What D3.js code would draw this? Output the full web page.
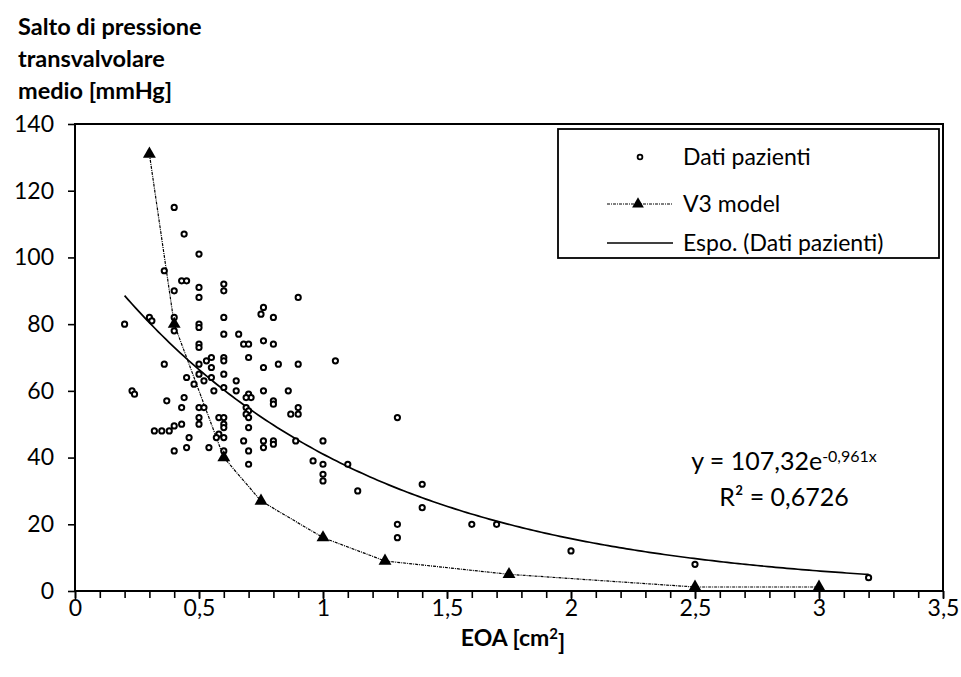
<!DOCTYPE html>
<html><head><meta charset="utf-8">
<script src="https://cdn.jsdelivr.net/npm/d3@7"></script>
<style>
body{margin:0;background:#fff}
svg{display:block}
text{font-family:Lato,"Open Sans",sans-serif;fill:#000}
</style>
</head><body>
<svg id="c" width="961" height="677"></svg>
<script>
// ---- data ----
const patientsX = [0.40,0.44,0.50,0.36,0.43,0.45,0.40,0.50,0.50,0.60,0.60,0.90,0.76,0.75,0.80,
  0.20,0.30,0.31,0.40,0.40,0.50,0.50,0.60,0.60,0.66,0.68,0.70,0.76,0.80,0.50,0.50,0.55,0.60,0.60,
  0.70,0.76,0.36,0.50,0.53,0.55,0.82,0.90,1.05,0.45,0.50,0.52,0.55,0.48,0.60,0.65,0.60,0.65,0.56,
  0.70,0.71,0.69,0.76,0.86,0.23,0.24,0.37,0.44,0.43,0.50,0.52,0.69,0.70,0.69,0.70,0.80,0.80,0.90,
  0.90,0.87,0.50,0.50,0.58,0.60,0.60,0.60,0.70,0.32,0.35,0.38,0.40,0.43,0.46,0.58,0.57,0.60,0.68,
  0.76,0.76,0.80,0.80,0.89,1.00,0.40,0.45,0.54,0.60,0.70,0.70,0.96,1.00,1.00,1.00,1.10,1.14,1.30,
  1.40,1.40,1.30,1.30,1.60,1.70,2.00,2.50,3.20];
const patientsY = [115,107,101,96,93,93,90,91,88,92,90,88,85,83,82,
  80,82,81,82,78,80,79,82,77,77,74,74,75,74,74,73,70,70,69,
  70,67,68,68,69,67,68,68,69,64,65,63,64,62,65,63,61,60,60,
  59,58,58,60,60,60,59,57,58,55,55,55,55,54,53,52,57,56,55,
  53,53,52,50,52,52,50,49,49,48,48,48,49.5,50,46,47,46,46,45,
  45,43,45,44,45,45,42,43,43,42,42,38,39,38,35,33,38,30,52,
  32,25,20,16,20,20,12,8,4];
const modelX = [0.3,0.4,0.6,0.75,1.0,1.25,1.75,2.5,3.0];
const modelY = [131,80,40,27,16,9,5,1.2,1.2];
const fitA = 107.32, fitB = -0.961;        // Espo. trendline coefficients
const fitRange = [0.2, 3.2];
const xTickValues = [0,0.5,1,1.5,2,2.5,3,3.5];
const xTickLabels = ["0","0,5","1","1,5","2","2,5","3","3,5"];
const yTickValues = [0,20,40,60,80,100,120,140];
const legendLabels = ["Dati pazienti","V3 model","Espo. (Dati pazienti)"];
const yTitleLines = ["Salto di pressione","transvalvolare","medio [mmHg]"];
const xTitle = "EOA [cm";
const eqMain = "y = 107,32e", eqExp = "-0,961x", r2Text = "R² = 0,6726";

// ---- layout ----
const svg = d3.select("#c");
const L = 75, R = 943, T = 124, B = 591;
const x = d3.scaleLinear([0,3.5],[L,R]);
const y = d3.scaleLinear([0,140],[B,T]);

// axes
const yAxis = svg.append("g").attr("transform",`translate(${L},0)`)
  .call(d3.axisLeft(y).tickValues(yTickValues).tickSize(7).tickSizeOuter(0).tickPadding(14).tickFormat(d=>d));
const xMinor = svg.append("g").attr("transform",`translate(0,${B})`)
  .call(d3.axisBottom(x).tickValues(d3.range(0,36).map(i=>i/10)).tickSize(7).tickSizeOuter(0).tickFormat(""));
const xAxis = svg.append("g").attr("transform",`translate(0,${B})`)
  .call(d3.axisBottom(x).tickValues(xTickValues).tickSize(8).tickSizeOuter(0).tickPadding(1)
    .tickFormat((d,i)=>xTickLabels[i]));
[yAxis,xMinor,xAxis].forEach(g=>{
  g.selectAll("path.domain").remove();
  g.selectAll("line").attr("stroke","#000").attr("stroke-width",1.6);
  g.selectAll("text").style("font-family","Lato").style("font-size","23px").attr("fill","#000");
});

// plot border
svg.append("rect").attr("x",L).attr("y",T).attr("width",R-L).attr("height",B-T)
  .attr("fill","none").attr("stroke","#000").attr("stroke-width",2);

// trendline
const fitPts = d3.range(0,201).map(i=>fitRange[0]+(fitRange[1]-fitRange[0])*i/200);
svg.append("path").datum(fitPts)
  .attr("d",d3.line().x(d=>x(d)).y(d=>y(fitA*Math.exp(fitB*d))))
  .attr("fill","none").attr("stroke","#000").attr("stroke-width",1.7);

// V3 model line
const model = modelX.map((v,i)=>[v,modelY[i]]);
svg.append("path").datum(model)
  .attr("d",d3.line().x(d=>x(d[0])).y(d=>y(d[1])))
  .attr("fill","none").attr("stroke","#000").attr("stroke-width",1.2).attr("stroke-dasharray","3,1,1,1");

// patient points
const pts = patientsX.map((v,i)=>[v,patientsY[i]]);
svg.append("g").selectAll("circle").data(pts).join("circle")
  .attr("cx",d=>x(d[0])).attr("cy",d=>y(d[1])).attr("r",2.6)
  .attr("fill","#fff").attr("stroke","#000").attr("stroke-width",2);

// V3 triangles
const tri = d3.symbol(d3.symbolTriangle, 72);
svg.append("g").selectAll("path").data(model).join("path")
  .attr("d",tri).attr("transform",d=>`translate(${x(d[0])},${y(d[1])})`).attr("fill","#000");

// y title
svg.append("g").selectAll("text").data(yTitleLines).join("text")
  .attr("x",18).attr("y",(d,i)=>35+i*32).style("font-weight","bold").style("font-size","23.5px").text(d=>d);

// x title
const xt = svg.append("text").attr("x",(L+R)/2+4).attr("y",646).attr("text-anchor","middle")
  .style("font-weight","bold").style("font-size","23px");
xt.append("tspan").text(xTitle);
xt.append("tspan").attr("dy","-0.45em").style("font-size","15px").text("2");
xt.append("tspan").attr("dy","0.45em").text("]");

// legend
const lg = svg.append("g");
lg.append("rect").attr("x",558).attr("y",129).attr("width",381).attr("height",129)
  .attr("fill","#fff").attr("stroke","#000").attr("stroke-width",1.8);
const rowY = [157,204,243];
lg.append("circle").attr("cx",640).attr("cy",rowY[0]).attr("r",2.4)
  .attr("fill","#fff").attr("stroke","#000").attr("stroke-width",1.8);
lg.append("line").attr("x1",607).attr("x2",673).attr("y1",rowY[1]).attr("y2",rowY[1])
  .attr("stroke","#000").attr("stroke-width",1.1).attr("stroke-dasharray","3,1,1,1");
lg.append("path").attr("d",d3.symbol(d3.symbolTriangle,60)).attr("transform",`translate(638,${rowY[1]})`).attr("fill","#000");
lg.append("line").attr("x1",607).attr("x2",673).attr("y1",rowY[2]).attr("y2",rowY[2])
  .attr("stroke","#000").attr("stroke-width",1.5);
lg.selectAll("text.lt").data(legendLabels).join("text").attr("class","lt")
  .attr("x",683).attr("y",(d,i)=>rowY[i]).attr("dy","0.35em").style("font-size","23px").text(d=>d);

// equation
const eq = svg.append("text").attr("x",784).attr("y",470).attr("text-anchor","middle").style("font-size","25px");
eq.append("tspan").text(eqMain);
eq.append("tspan").attr("dy","-0.5em").style("font-size","16px").text(eqExp);
svg.append("text").attr("x",784).attr("y",506).attr("text-anchor","middle").style("font-size","25px").text(r2Text);
</script>
</body></html>
